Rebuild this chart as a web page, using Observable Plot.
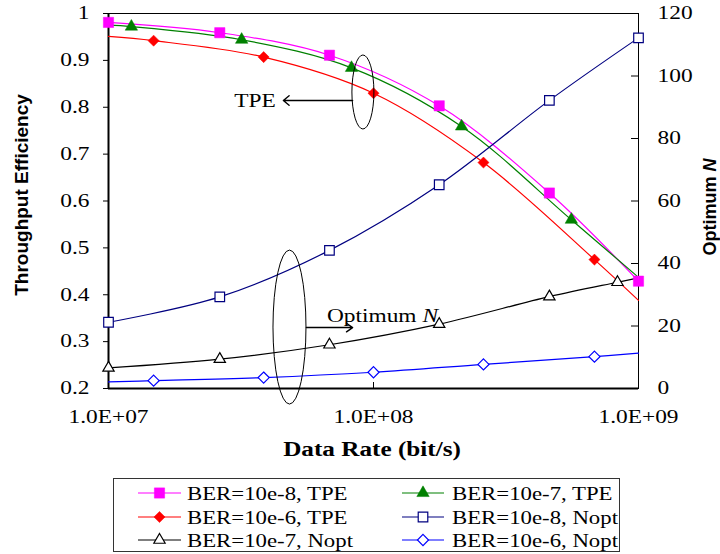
<!DOCTYPE html>
<html><head><meta charset="utf-8">
<script src="https://cdn.jsdelivr.net/npm/d3@7"></script>
<script src="https://cdn.jsdelivr.net/npm/@observablehq/plot@0.6"></script>
<style>body{margin:0;background:#fff;} #chart{width:720px;} svg{display:block;}</style>
</head><body><div id="chart"></div>
<script>
// ---- data ----
const seriesNames = ["BER=10e-8, TPE","BER=10e-7, TPE","BER=10e-6, TPE","BER=10e-8, Nopt","BER=10e-7, Nopt","BER=10e-6, Nopt"];
const rateA = [1.0e7, 2.63e7, 6.82e7, 1.77e8, 4.61e8, 1.0e9];
const rateB = [1.0e7, 1.22e7, 3.18e7, 8.26e7, 2.15e8, 5.58e8, 1.0e9];
const rateC = [1.0e7, 1.48e7, 3.85e7, 1.0e8, 2.6e8, 6.82e8, 1.0e9];
const rateD = [1.0e7, 2.63e7, 6.82e7, 1.77e8, 4.61e8, 8.33e8, 1.0e9];
const tpeBer8 = [0.981, 0.959, 0.911, 0.803, 0.617, 0.429];
const tpeBer7 = [0.975, 0.972, 0.944, 0.884, 0.759, 0.560, 0.437];
const tpeBer6 = [0.951, 0.942, 0.907, 0.830, 0.682, 0.475, 0.388];
const noptBer8 = [21.2, 29.3, 44.2, 65.2, 92.2, 112.2];
const noptBer7 = [6.6, 9.4, 14.0, 20.6, 29.4, 34.0, 35.4];
const noptBer6 = [2.1, 2.5, 3.5, 5.2, 7.7, 10.2, 11.3];
const markAll = [1,1,1,1,1,1];
const markInner = [0,1,1,1,1,1,0];
const markNoLast = [1,1,1,1,1,1,0];

const xTicks = [1e7, 1e8, 1e9];
const xTickLabels = ["1.0E+07","1.0E+08","1.0E+09"];
const yTicks = [0.2,0.3,0.4,0.5,0.6,0.7,0.8,0.9,1.0];
const yTickLabels = ["0.2","0.3","0.4","0.5","0.6","0.7","0.8","0.9","1"];
const nTicks = [0,20,40,60,80,100,120];
const nTickLabels = ["0","20","40","60","80","100","120"];

// annotations (data space)
const tpeNote = {x1: 8.34e7, x2: 4.57e7, y: 0.8144, tx: 4.3e7, ty: 0.813, ex: 9.16e7, ey: 0.8315};
const noptNote = {x1: 5.58e7, x2: 8.34e7, y: 0.330, tx: 6.7e7, ty: 0.3536, ex: 4.84e7, ey: 0.330};

// ---- build ----
const nMax = 120, yMin = 0.2, yMax = 1.0;
const nToY = n => yMin + n / nMax * (yMax - yMin);
const SERIF = "'Liberation Serif', 'Times New Roman', serif";

const series = [
  {name: seriesNames[0], rate: rateA, value: tpeBer8, mark: markAll, right: false},
  {name: seriesNames[1], rate: rateB, value: tpeBer7, mark: markInner, right: false},
  {name: seriesNames[2], rate: rateC, value: tpeBer6, mark: markInner, right: false},
  {name: seriesNames[3], rate: rateA, value: noptBer8, mark: markAll, right: true},
  {name: seriesNames[4], rate: rateD, value: noptBer7, mark: markNoLast, right: true},
  {name: seriesNames[5], rate: rateC, value: noptBer6, mark: markInner, right: true}
];
const styles = {
  [seriesNames[0]]: {color: "#ff00ff", symbol: "square", fill: "#ff00ff", r: 5.8},
  [seriesNames[1]]: {color: "#008000", symbol: "triangle", fill: "#008000", r: 4.6},
  [seriesNames[2]]: {color: "#ff0000", symbol: "diamond2", fill: "#ff0000", r: 5},
  [seriesNames[3]]: {color: "#000080", symbol: "square", fill: "white", r: 5.4},
  [seriesNames[4]]: {color: "#000000", symbol: "triangle", fill: "white", r: 4.2},
  [seriesNames[5]]: {color: "#0000ff", symbol: "diamond2", fill: "white", r: 5}
};
const table = series.flatMap(s => s.rate.map((r, i) => ({
  series: s.name, rate: r, y: s.right ? nToY(s.value[i]) : s.value[i], marked: s.mark[i] === 1
})));

const W = 720, H = 466, mL = 108, mR = 82, mT = 13, mB = 78;
const plotW = W - mL - mR, plotH = H - mT - mB;

const lineMarks = series.map(s => Plot.line(table.filter(d => d.series === s.name), {
  x: "rate", y: "y", stroke: styles[s.name].color, strokeWidth: 1.2, curve: "catmull-rom"
}));
const dotMarks = series.map(s => Plot.dot(table.filter(d => d.series === s.name && d.marked), {
  x: "rate", y: "y", symbol: () => styles[s.name].symbol, r: styles[s.name].r,
  fill: styles[s.name].fill, stroke: styles[s.name].color,
  strokeWidth: styles[s.name].fill === "white" ? 1.2 : 0.5
}));

const chart = Plot.plot({
  width: W, height: H, marginLeft: mL, marginRight: mR, marginTop: mT, marginBottom: mB,
  style: {fontFamily: SERIF, fontSize: "18px", color: "black", background: "white", overflow: "visible"},
  x: {type: "log", domain: [1e7, 1e9]},
  y: {domain: [yMin, yMax]},
  symbol: {type: "identity"},
  marks: [
    Plot.frame({stroke: "black", strokeWidth: 1}),
    Plot.ruleX([1e7], {stroke: "black", strokeWidth: 2}),
    Plot.ruleY([yMin], {stroke: "black", strokeWidth: 2}),
    Plot.tickX(xTicks, {x: d => d, stroke: "black", insetTop: plotH - 6}),
    Plot.tickY(nTicks.map(nToY), {y: d => d, stroke: "black", insetLeft: plotW - 7}),
    ...lineMarks,
    ...dotMarks,
    Plot.axisX({ticks: xTicks, tickSize: 0, tickPadding: 22, label: null, fontSize: 18, fontFamily: SERIF,
      tickFormat: d => xTickLabels[xTicks.indexOf(d)]}),
    Plot.axisY({anchor: "left", ticks: yTicks, tickSize: 5, tickPadding: 14, label: null, fontSize: 18, fontFamily: SERIF,
      tickFormat: d => yTickLabels[yTicks.findIndex(t => Math.abs(t - d) < 1e-9)]}),
    Plot.axisY({anchor: "right", ticks: nTicks.map(nToY), tickSize: 0, tickPadding: 19, label: null, fontSize: 18, fontFamily: SERIF,
      tickFormat: d => nTickLabels[nTicks.findIndex(n => Math.abs(nToY(n) - d) < 1e-9)]}),
    Plot.arrow([tpeNote], {x1: "x1", x2: "x2", y1: "y", y2: "y", stroke: "black", strokeWidth: 1.4, headLength: 8, headAngle: 80}),
    Plot.arrow([noptNote], {x1: "x1", x2: "x2", y1: "y", y2: "y", stroke: "black", strokeWidth: 1.4, headLength: 8, headAngle: 70})
  ]
});
document.getElementById("chart").append(chart);

// horizontally widen tick labels (pivot on their anchor) to match the reference's proportions
function stretchDom(el, s) {
  const parent = el.parentNode;
  const r = el.getBoundingClientRect();
  const anchor = getComputedStyle(el).textAnchor;
  const sxp = anchor === "end" ? r.right : anchor === "middle" ? (r.left + r.right) / 2 : r.left;
  const pt = chart.createSVGPoint();
  pt.x = sxp; pt.y = (r.top + r.bottom) / 2;
  const p = pt.matrixTransform(parent.getScreenCTM().inverse());
  const g = document.createElementNS("http://www.w3.org/2000/svg", "g");
  g.setAttribute("transform", `translate(${p.x},${p.y}) scale(${s},1) translate(${-p.x},${-p.y})`);
  parent.insertBefore(g, el);
  g.appendChild(el);
}
chart.querySelectorAll('g[aria-label$="tick label"] text').forEach(el => {
  el.setAttribute("font-family", SERIF);
  stretchDom(el, 1.3);
});

const svg = d3.select(chart);
const sx = chart.scale("x"), sy = chart.scale("y");
const X = v => sx.apply(v), Y = v => sy.apply(v);

// ellipses
svg.append("ellipse").attr("cx", X(tpeNote.ex)).attr("cy", Y(tpeNote.ey)).attr("rx", 11).attr("ry", 37)
  .attr("fill", "none").attr("stroke", "black").attr("stroke-width", 1);
svg.append("ellipse").attr("cx", X(noptNote.ex)).attr("cy", Y(noptNote.ey)).attr("rx", 16.5).attr("ry", 77)
  .attr("fill", "none").attr("stroke", "black").attr("stroke-width", 1);

// annotation texts
function addText(parent, txt, x, y, opts = {}) {
  const t = parent.append("text")
    .attr("transform", `translate(${x},${y})${opts.rotate ? ` rotate(${opts.rotate})` : ""} scale(${opts.sx || 1},1)`)
    .attr("text-anchor", opts.anchor || "start")
    .attr("font-family", opts.family || SERIF)
    .attr("font-size", opts.size || 18)
    .attr("font-weight", opts.weight || "normal")
    .attr("fill", "black");
  if (opts.dy) t.attr("dy", opts.dy);
  return t.text(txt);
}
addText(svg, "TPE", X(tpeNote.tx), Y(tpeNote.ty), {anchor: "end", sx: 1.3, dy: "0.35em"});
const on = addText(svg, "Optimum ", X(noptNote.tx), Y(noptNote.ty), {anchor: "start", sx: 1.3, dy: "0.35em"});
on.append("tspan").attr("font-style", "italic").text("N");

// axis titles
addText(svg, "Throughput Efficiency", 28, 195, {anchor: "middle", rotate: -90, family: "'Liberation Sans', Arial, sans-serif", size: 19, weight: "bold"});
const ot = addText(svg, "Optimum ", 716, 207, {anchor: "middle", rotate: -90, family: "'Liberation Sans', Arial, sans-serif", size: 18, weight: "bold"});
ot.append("tspan").attr("font-style", "italic").text("N");
addText(svg, "Data Rate (bit/s)", 372, 456, {anchor: "middle", size: 21, weight: "bold", sx: 1.2});

// ---- legend (below the plot) ----
const leg = d3.select("#chart").append("svg").attr("width", W).attr("height", 554 - H);
leg.append("rect").attr("x", 113.5).attr("y", 12.5).attr("width", 506).attr("height", 73)
  .attr("fill", "white").attr("stroke", "#333").attr("stroke-width", 1);
const symbolMap = {square: d3.symbolSquare, triangle: d3.symbolTriangle, diamond2: d3.symbolDiamond2};
const colX = [[138, 181, 187], [402, 444, 452]];
const rowY = [27, 51, 74];
seriesNames.forEach((name, i) => {
  const st = styles[name];
  const [x1, x2, tx] = colX[i % 2];
  const y = rowY[Math.floor(i / 2)];
  leg.append("line").attr("x1", x1).attr("x2", x2).attr("y1", y).attr("y2", y)
    .attr("stroke", st.color).attr("stroke-width", 1.2);
  leg.append("path").attr("d", d3.symbol(symbolMap[st.symbol], Math.PI * st.r * st.r)())
    .attr("transform", `translate(${(x1 + x2) / 2},${y})`)
    .attr("fill", st.fill).attr("stroke", st.color).attr("stroke-width", st.fill === "white" ? 1.2 : 0.5);
  addText(leg, name, tx, y, {sx: 1.2, size: 19, dy: "0.35em"});
});
</script></body></html>
